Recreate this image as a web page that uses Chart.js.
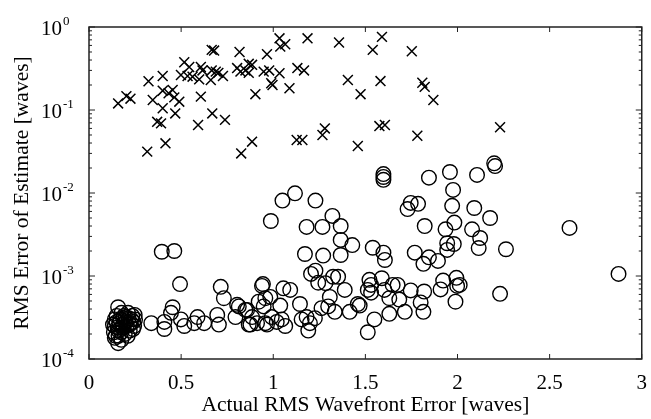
<!DOCTYPE html>
<html>
<head>
<meta charset="utf-8">
<script src="https://cdn.jsdelivr.net/npm/chart.js@4.4.1/dist/chart.umd.min.js"></script>
<style>
  html, body { margin: 0; padding: 0; background: #fff; }
  #wrap { width: 651px; height: 419px; }
</style>
</head>
<body>
<div id="wrap"><canvas id="chart" width="651" height="419"></canvas></div>
<script>
// estimate error, cross markers (upper cloud)
var crossX = [0.158, 0.203, 0.225, 0.323, 0.346, 0.400, 0.400, 0.432, 0.454, 0.463,
    0.490, 0.400, 0.468, 0.370, 0.391, 0.415, 0.316, 0.517, 0.544, 0.499,
    0.535, 0.562, 0.598, 0.607, 0.616, 0.607, 0.592, 0.666, 0.679, 0.666,
    0.661, 0.688, 0.702, 0.727, 0.669, 0.738, 0.817, 0.804, 0.822, 0.849,
    0.867, 0.885, 0.867, 0.903, 0.885, 0.826, 0.948, 0.966, 0.978, 0.989,
    0.996, 1.034, 1.034, 1.038, 1.065, 1.088, 1.131, 1.167, 1.127, 1.158,
    1.186, 1.267, 1.280, 1.357, 1.405, 1.474, 1.459, 1.540, 1.590, 1.752,
    1.582, 1.809, 1.822, 1.869, 1.576, 1.606, 1.782, 2.231];
var crossY = [0.12, 0.147, 0.137, 0.222, 0.132, 0.257, 0.171, 0.159, 0.174, 0.142,
    0.126, 0.105, 0.091, 0.072, 0.069, 0.0397, 0.0315, 0.376, 0.33, 0.264,
    0.257, 0.252, 0.234, 0.33, 0.30, 0.145, 0.066, 0.53, 0.52, 0.30,
    0.23, 0.29, 0.28, 0.257, 0.091, 0.076, 0.50, 0.32, 0.29, 0.30,
    0.36, 0.35, 0.28, 0.155, 0.0415, 0.030, 0.29, 0.47, 0.30, 0.21,
    0.20, 0.277, 0.73, 0.58, 0.62, 0.183, 0.32, 0.30, 0.0435, 0.0435,
    0.73, 0.050, 0.060, 0.65, 0.23, 0.155, 0.0368, 0.53, 0.76, 0.51,
    0.223, 0.213, 0.19, 0.132, 0.064, 0.066, 0.049, 0.062];

// estimate error, circle markers (lower cloud)
var circleX = [1.845, 1.959, 2.106, 2.199, 2.204, 1.976, 1.746, 1.786, 1.729, 1.971,
    2.091, 2.177, 1.822, 1.983, 1.935, 2.079, 2.123, 1.944, 1.980, 1.944,
    2.115, 2.263, 2.608, 2.874, 1.768, 1.845, 1.815, 1.894, 1.922, 1.908,
    1.994, 1.998, 2.012, 1.989, 2.231, 1.746, 1.819, 1.684, 1.800, 1.714,
    1.815, 1.675,
    1.598, 1.598, 1.598, 1.118, 1.050, 1.229, 0.987, 1.321, 1.181, 1.267,
    1.366, 1.366, 1.429, 1.172, 1.271, 1.366, 1.540, 1.598, 1.606, 1.205,
    1.229, 1.244, 1.283, 1.325, 1.352, 1.388, 0.939, 1.055, 1.092, 0.984,
    1.307, 1.522, 1.531, 1.513, 1.531, 1.589, 1.648, 1.603, 1.630, 1.145,
    1.038, 1.262, 1.298, 1.334, 1.415, 1.459, 1.469, 1.630, 1.549, 1.513,
    0.813, 0.849, 0.885, 0.867, 0.912, 0.957, 0.992, 1.019, 1.046, 1.065,
    0.948, 0.921, 1.154, 1.181, 1.199, 1.190, 1.226,
    0.395, 0.463, 0.494, 0.715, 0.732, 0.944, 0.158, 0.454, 0.445, 0.338,
    0.409, 0.409, 0.499, 0.517, 0.589, 0.571, 0.625, 0.696, 0.705, 0.804,
    0.795, 0.858, 0.876, 0.957, 0.966,
    0.140, 0.140, 0.140, 0.176, 0.185, 0.194, 0.212, 0.230, 0.239, 0.248,
    0.158, 0.221, 0.176, 0.150, 0.160, 0.200, 0.220, 0.170, 0.190, 0.240,
    0.250,
    0.130, 0.135, 0.145, 0.155, 0.165, 0.175, 0.185, 0.195, 0.205, 0.215,
    0.225, 0.235, 0.245, 0.150, 0.180, 0.210, 0.160, 0.200];
var circleY = [0.0153, 0.0179, 0.0165, 0.0228, 0.0211, 0.0109, 0.0076, 0.0074, 0.0064, 0.0070,
    0.0066, 0.0050, 0.0040, 0.0044, 0.00365, 0.00365, 0.00287, 0.00248, 0.00243, 0.00206,
    0.00217, 0.0021, 0.0038, 0.00106, 0.00191, 0.00168, 0.0014, 0.00152, 0.00088, 0.00069,
    0.00095, 0.00076, 0.00078, 0.00049, 0.00061, 0.00067, 0.00065, 0.00052, 0.00048, 0.00037,
    0.00037, 0.00078,
    0.0169, 0.0156, 0.0144, 0.0099, 0.0081, 0.0081, 0.0046, 0.0053, 0.0039, 0.0039,
    0.0040, 0.00272, 0.00236, 0.00184, 0.00176, 0.00179, 0.00219, 0.00191, 0.00156, 0.00106,
    0.00116, 0.00083, 0.00082, 0.00098, 0.00098, 0.00068, 0.00076, 0.00071, 0.00068, 0.00056,
    0.00056, 0.0009, 0.00078, 0.00068, 0.00063, 0.00094, 0.00078, 0.00068, 0.00054, 0.00046,
    0.00044, 0.00041, 0.00043, 0.00037, 0.00037, 0.00046, 0.00044, 0.00035, 0.0003, 0.00021,
    0.00043, 0.00039, 0.00032, 0.00026, 0.00027, 0.00027, 0.00032, 0.00028, 0.0003, 0.00025,
    0.00043, 0.00049, 0.0003, 0.00032, 0.00027, 0.00022, 0.00031,
    0.00196, 0.002, 0.0008, 0.00074, 0.00054, 0.0008, 0.00042, 0.00042, 0.00036, 0.00027,
    0.00028, 0.00023, 0.0003, 0.00025, 0.00032, 0.00027, 0.00027, 0.00034, 0.00026, 0.00045,
    0.00032, 0.00039, 0.00026, 0.00054, 0.00026,
    0.0003, 0.00025, 0.00018, 0.00036, 0.00026, 0.0002, 0.00036, 0.0003, 0.00023, 0.00034,
    0.000155, 0.00022, 0.00017, 0.00028, 0.00022, 0.00028, 0.00026, 0.0003, 0.00033, 0.00028,
    0.0003,
    0.00026, 0.00021, 0.00019, 0.00024, 0.00027, 0.00021, 0.00031, 0.00027, 0.00025, 0.00031,
    0.00027, 0.00033, 0.00025, 0.00033, 0.00024, 0.00019, 0.00019, 0.00032];

var xTicks = [0, 0.5, 1, 1.5, 2, 2.5, 3];
var yExponents = [0, -1, -2, -3, -4];

function toPoints(xs, ys) {
    return xs.map(function (x, i) { return { x: x, y: ys[i] }; });
}

var serif = '"Liberation Serif", "Times New Roman", serif';

// box, inward ticks and 10^n labels, the way the original plot shows them
var frame = {
    id: 'frame',
    afterDraw: function (chart) {
        var ctx = chart.ctx, a = chart.chartArea;
        var xs = chart.scales.x, ys = chart.scales.y;
        ctx.save();
        ctx.strokeStyle = '#222';
        ctx.lineWidth = 1.5;
        ctx.strokeRect(a.left, a.top, a.right - a.left, a.bottom - a.top);
        ctx.lineWidth = 1;
        ctx.beginPath();
        xTicks.forEach(function (v) {
            var px = xs.getPixelForValue(v);
            ctx.moveTo(px, a.bottom); ctx.lineTo(px, a.bottom - 5);
            ctx.moveTo(px, a.top); ctx.lineTo(px, a.top + 5);
        });
        yExponents.forEach(function (e) {
            var py = ys.getPixelForValue(Math.pow(10, e));
            ctx.moveTo(a.left, py); ctx.lineTo(a.left + 6, py);
            ctx.moveTo(a.right, py); ctx.lineTo(a.right - 6, py);
            if (e < 0) {
                for (var m = 2; m <= 9; m++) {
                    var pm = ys.getPixelForValue(m * Math.pow(10, e));
                    ctx.moveTo(a.left, pm); ctx.lineTo(a.left + 3, pm);
                    ctx.moveTo(a.right, pm); ctx.lineTo(a.right - 3, pm);
                }
            }
        });
        ctx.stroke();

        ctx.fillStyle = '#000';
        ctx.textBaseline = 'alphabetic';
        yExponents.forEach(function (e) {
            var py = ys.getPixelForValue(Math.pow(10, e));
            ctx.font = '21px ' + serif;
            ctx.textAlign = 'left';
            ctx.fillText('10', 41, py + 8);
            var w = ctx.measureText('10').width;
            ctx.font = '13px ' + serif;
            ctx.fillText(String(e), 41 + w + 1, py - 2);
        });
        ctx.restore();
    }
};

var context = document.getElementById('chart').getContext('2d');

var data = {
    datasets: [{
            label: 'cross',
            data: toPoints(crossX, crossY),
            pointStyle: 'crossRot',
            pointRadius: 7,
            borderColor: '#000',
            borderWidth: 1.5,
            backgroundColor: 'rgba(0,0,0,0)'
        }, {
            label: 'circle',
            data: toPoints(circleX, circleY),
            pointStyle: 'circle',
            pointRadius: 7.3,
            borderColor: '#000',
            borderWidth: 1.4,
            backgroundColor: 'rgba(0,0,0,0)'
        }]
};

var options = {
    responsive: false,
    animation: false,
    layout: { padding: { top: 27, right: 5, left: 0, bottom: 0 } },
    plugins: { legend: { display: false }, tooltip: { enabled: false } },
    scales: {
        x: {
            type: 'linear',
            min: 0,
            max: 3,
            afterFit: function (s) { s.height = 60; },
            afterBuildTicks: function (s) {
                s.ticks = xTicks.map(function (v) { return { value: v }; });
            },
            ticks: {
                color: '#000',
                padding: 4,
                maxRotation: 0,
                font: { family: serif, size: 21 },
                callback: function (v) { return String(v); }
            },
            grid: { display: false },
            border: { display: false },
            title: {
                display: true,
                text: 'Actual RMS Wavefront Error [waves]',
                color: '#000',
                padding: { top: 0, bottom: 1 },
                font: { family: serif, size: 21.5 }
            }
        },
        y: {
            type: 'logarithmic',
            min: 1e-4,
            max: 1,
            afterFit: function (s) { s.width = 89; },
            ticks: { display: false },
            grid: { display: false },
            border: { display: false },
            title: {
                display: true,
                text: 'RMS Error of Estimate [waves]',
                color: '#000',
                padding: { top: 9, bottom: 0 },
                font: { family: serif, size: 21.5 }
            }
        }
    }
};

var myChart = new Chart(context, {
    type: 'scatter',
    data: data,
    options: options,
    plugins: [frame]
});
</script>
</body>
</html>
